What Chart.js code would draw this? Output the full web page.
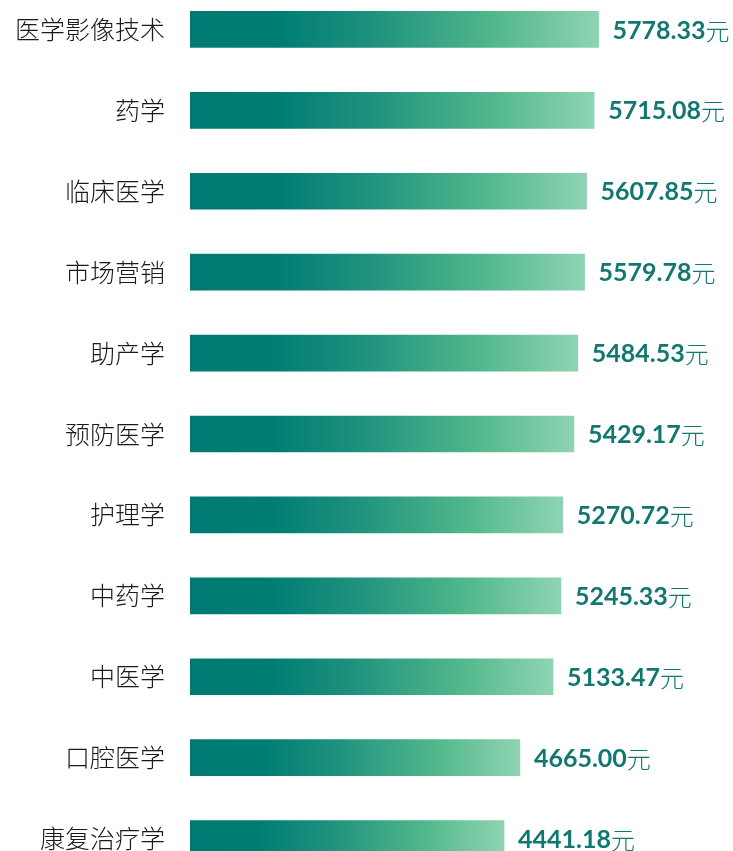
<!DOCTYPE html>
<html>
<head>
<meta charset="utf-8">
<script src="https://cdn.jsdelivr.net/npm/chart.js@4.4.0/dist/chart.umd.min.js"></script>
<style>
    html, body { margin: 0; padding: 0; background: #fff; overflow: hidden; width: 733px; height: 851px; }
    #wrap { position: absolute; left: 0; top: -11px; width: 733px; height: 890px; }
</style>
</head>
<body>
<div id="wrap"><canvas id="myChart"></canvas></div>
<script>
const majors = ['医学影像技术', '药学', '临床医学', '市场营销', '助产学', '预防医学', '护理学', '中药学', '中医学', '口腔医学', '康复治疗学'];
const salaries = [5778.33, 5715.08, 5607.85, 5579.78, 5484.53, 5429.17, 5270.72, 5245.33, 5133.47, 4665.00, 4441.18];
const unit = '元';

const textColor = '#107870';

const barGradient = (context) => {
    const chart = context.chart;
    const area = chart.chartArea;
    if (!area) return '#0a7a70';
    const value = salaries[context.dataIndex];
    const x0 = chart.scales.x.getPixelForValue(0);
    const x1 = chart.scales.x.getPixelForValue(value);
    const g = chart.ctx.createLinearGradient(x0, 0, x1, 0);
    g.addColorStop(0, '#007a72');
    g.addColorStop(0.22, '#007d73');
    g.addColorStop(0.45, '#1f927e');
    g.addColorStop(0.75, '#52b88c');
    g.addColorStop(1, '#8fd4b2');
    return g;
};

const valueLabels = {
    id: 'valueLabels',
    afterDatasetsDraw(chart) {
        const ctx = chart.ctx;
        const meta = chart.getDatasetMeta(0);
        ctx.save();
        ctx.textBaseline = 'middle';
        ctx.textAlign = 'left';
        ctx.fillStyle = textColor;
        meta.data.forEach((bar, i) => {
            const num = salaries[i].toFixed(2);
            const x = bar.x + 14;
            const y = bar.y + 1;
            ctx.font = 'bold 25px Lato';
            ctx.fillText(num, x, y);
            const w = ctx.measureText(num).width;
            ctx.font = '300 24px "Noto Sans CJK SC"';
            ctx.fillText(unit, x + w, y);
        });
        ctx.restore();
    }
};

const ctx = document.getElementById('myChart').getContext('2d');
const chart = new Chart(ctx, {
    type: 'bar',
    data: {
        labels: majors,
        datasets: [{
            data: salaries,
            backgroundColor: barGradient,
            borderWidth: 0,
            barThickness: 36
        }]
    },
    options: {
        indexAxis: 'y',
        responsive: true,
        maintainAspectRatio: false,
        animation: false,
        layout: { padding: { left: 0, right: 48, top: 0, bottom: 0 } },
        plugins: {
            legend: { display: false },
            tooltip: { enabled: false }
        },
        scales: {
            x: {
                display: false,
                min: 0,
                max: 7000
            },
            y: {
                grid: { display: false, drawTicks: false },
                border: { display: false },
                ticks: {
                    padding: 25,
                    color: '#1a1a1a',
                    font: { family: '"Noto Sans CJK SC"', size: 25, weight: '300' }
                },
                afterFit(scale) {
                    scale.width = 190;
                    // tick padding shouldn't push the plot down
                    scale.paddingTop = 0;
                    scale.paddingBottom = 0;
                }
            }
        }
    },
    plugins: [valueLabels]
});
</script>
</body>
</html>
